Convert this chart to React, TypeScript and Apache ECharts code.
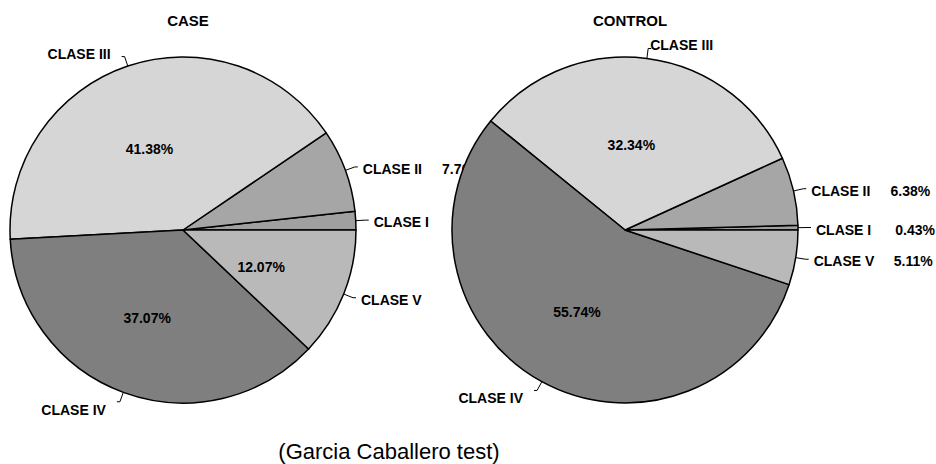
import React, { useEffect, useRef } from 'react';
import * as echarts from 'echarts';

const categories = ['CLASE I', 'CLASE II', 'CLASE III', 'CLASE IV', 'CLASE V'];
const caseValues = [1.72, 7.76, 41.38, 37.07, 12.07];
const controlValues = [0.43, 6.38, 32.34, 55.74, 5.11];
const pieTitles = ['CASE', 'CONTROL'];
const footnote = '(Garcia Caballero test)';

const sliceColors = ['#a0a0a0', '#a6a6a6', '#d6d6d6', '#7f7f7f', '#b9b9b9'];
const FONT = '"Liberation Sans", Arial, Helvetica, sans-serif';
const SMALL = 10;

const boldText = { fontFamily: FONT, fontSize: 14, fontWeight: 'bold' as const, color: '#000' };

function outsideLayout(params: any) {
  const pts = params.labelLinePoints;
  if (!pts || pts.length < 2) return {};
  const vx = pts[1][0] - pts[0][0];
  const vy = pts[1][1] - pts[0][1];
  const len = Math.hypot(vx, vy) || 1;
  const uy = vy / len;
  if (Math.abs(uy) > 0.5) {
    return { dx: -6, dy: uy > 0 ? 8 : -3 };
  }
  return { dy: 2 };
}

function buildSeries(values: number[], center: number[], z: number) {
  const data = categories.map((name, i) => ({ name, value: values[i] }));
  const common = {
    type: 'pie' as const,
    center,
    radius: 173,
    startAngle: 0,
    clockwise: false,
    z,
    silent: true,
    data,
  };
  return [
    {
      ...common,
      avoidLabelOverlap: false,
      itemStyle: {
        color: (p: any) => sliceColors[p.dataIndex],
        borderColor: '#000',
        borderWidth: 1.5,
      },
      label: {
        show: true,
        position: 'outside',
        distanceToLabelLine: 5,
        ...boldText,
        formatter: (p: any) =>
          p.value < SMALL ? `{n|${p.name}}{p|${p.value.toFixed(2)}%}` : p.name,
        rich: {
          n: { ...boldText, width: 82 },
          p: { ...boldText, width: 37, align: 'right' },
        },
      },
      labelLine: { show: true, length: 10, length2: 3, lineStyle: { color: '#000', width: 1 } },
      labelLayout: outsideLayout,
    },
    {
      ...common,
      itemStyle: { color: 'rgba(0,0,0,0)', borderWidth: 0 },
      label: {
        show: true,
        position: 'inside',
        ...boldText,
        formatter: (p: any) => (p.value >= SMALL ? `${p.value.toFixed(2)}%` : ''),
      },
      labelLine: { show: false },
      labelLayout: () => ({ dx: -5, dy: 4 }),
    },
  ];
}

export default function App() {
  const ref = useRef<HTMLDivElement>(null);
  useEffect(() => {
    if (!ref.current) return;
    const chart = echarts.init(ref.current, undefined, { renderer: 'svg' });
    chart.setOption({
      animation: false,
      backgroundColor: '#fff',
      title: [
        {
          text: pieTitles[0],
          left: 183,
          top: 8,
          textAlign: 'center',
          textStyle: { fontFamily: FONT, fontSize: 15, fontWeight: 'bold', color: '#000' },
        },
        {
          text: pieTitles[1],
          left: 625,
          top: 8,
          textAlign: 'center',
          textStyle: { fontFamily: FONT, fontSize: 15, fontWeight: 'bold', color: '#000' },
        },
        {
          text: footnote,
          left: 389,
          top: 440,
          padding: 0,
          textAlign: 'center',
          textStyle: { fontFamily: FONT, fontSize: 22, fontWeight: 'normal', color: '#000' },
        },
      ],
      series: [...buildSeries(caseValues, [183, 230], 2), ...buildSeries(controlValues, [625, 230], 3)],
    });
    return () => chart.dispose();
  }, []);
  return (
    <div
      ref={ref}
      style={{ position: 'fixed', left: 0, top: 0, width: 936, height: 464, background: '#fff' }}
    />
  );
}
